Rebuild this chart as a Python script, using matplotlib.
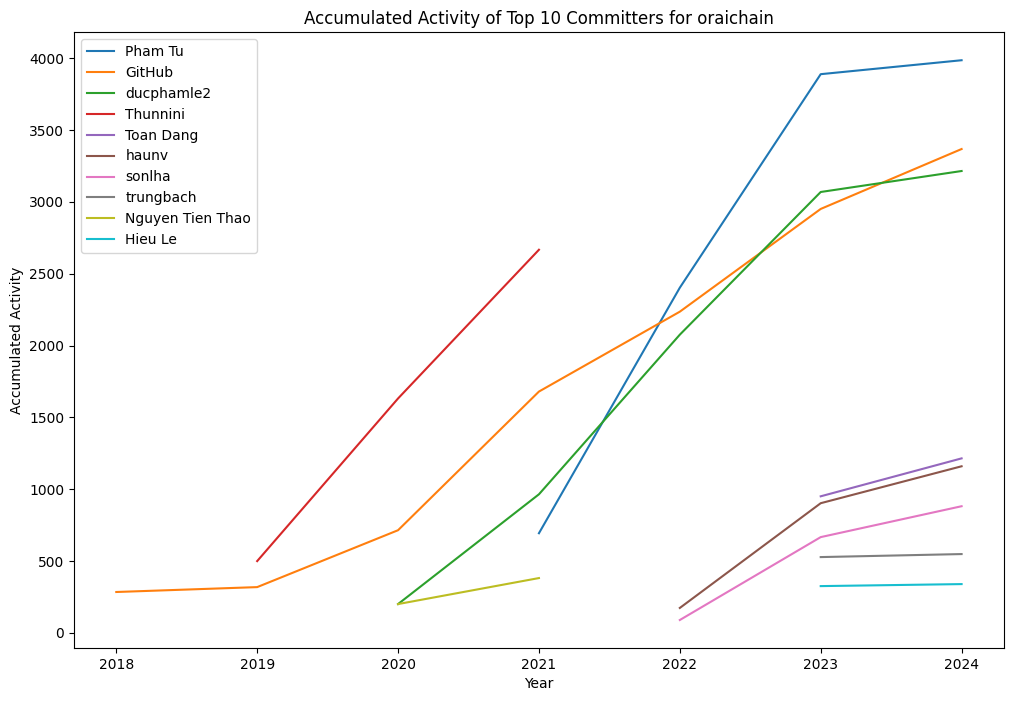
import matplotlib
matplotlib.use("Agg")
import matplotlib.pyplot as plt

# accumulated activity per committer
pham_tu_years = [2021, 2022, 2023, 2024]
pham_tu = [694, 2403, 3889, 3986]

github_years = [2018, 2019, 2020, 2021, 2022, 2023, 2024]
github = [285, 319, 715, 1680, 2236, 2951, 3368]

ducphamle2_years = [2020, 2021, 2022, 2023, 2024]
ducphamle2 = [201, 965, 2076, 3069, 3215]

thunnini_years = [2019, 2020, 2021]
thunnini = [500, 1632, 2667]

toan_dang_years = [2023, 2024]
toan_dang = [951, 1215]

haunv_years = [2022, 2023, 2024]
haunv = [174, 903, 1160]

sonlha_years = [2022, 2023, 2024]
sonlha = [90, 667, 882]

trungbach_years = [2023, 2024]
trungbach = [528, 549]

thao_years = [2020, 2021]
thao = [201, 382]

hieu_le_years = [2023, 2024]
hieu_le = [326, 340]

series = [
    ("Pham Tu", pham_tu_years, pham_tu),
    ("GitHub", github_years, github),
    ("ducphamle2", ducphamle2_years, ducphamle2),
    ("Thunnini", thunnini_years, thunnini),
    ("Toan Dang", toan_dang_years, toan_dang),
    ("haunv", haunv_years, haunv),
    ("sonlha", sonlha_years, sonlha),
    ("trungbach", trungbach_years, trungbach),
    ("Nguyen Tien Thao", thao_years, thao),
    ("Hieu Le", hieu_le_years, hieu_le),
]

fig, ax = plt.subplots(figsize=(10.14, 7.01), dpi=100)
fig.subplots_adjust(left=0.073, right=0.990, top=0.954, bottom=0.0756)

for name, years, values in series:
    ax.plot(years, values, label=name)

ax.set_title("Accumulated Activity of Top 10 Committers for oraichain")
ax.set_xlabel("Year")
ax.set_ylabel("Accumulated Activity")
ax.set_xticks(github_years)
ax.legend(loc="upper left")

plt.savefig("out.png", dpi=100)
